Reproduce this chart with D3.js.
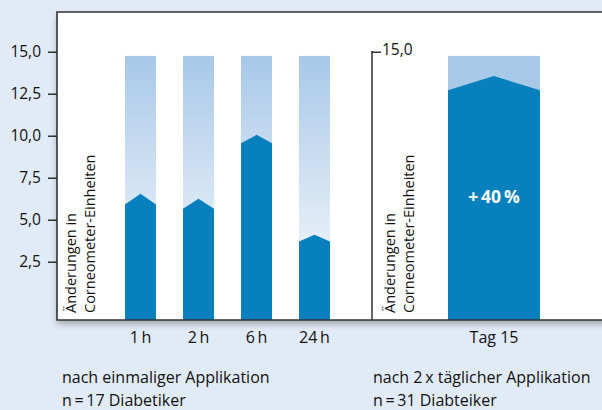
<!DOCTYPE html>
<html>
<head>
<meta charset="utf-8">
<script src="https://cdn.jsdelivr.net/npm/d3@7"></script>
<style>
  body { margin: 0; background: #e1ebf7; }
  svg { display: block; font-family: "Open Sans", sans-serif; }
</style>
</head>
<body>
<svg id="chart" width="602" height="410"></svg>
<script>
// single application (left panel)
const timeLabels = ["1\u2009h", "2\u2009h", "6\u2009h", "24\u2009h"]
const shoulderSingle = [5.9, 5.65, 9.55, 3.7]
const peakSingle = [6.55, 6.25, 10.05, 4.1]

// twice daily (right panel)
const dayLabels = ["Tag 15"]
const shoulderTwice = [12.7]
const peakTwice = [13.55]

const backgroundMax = 14.75
const yTicks = [2.5, 5, 7.5, 10, 12.5, 15]
const increaseLabel = "+\u200940\u2009%"

const axisTitle = ["Änderungen in", "Corneometer-Einheiten"]
const notesLeft = ["nach einmaliger Applikation", "n\u2009=\u200917 Diabetiker"]
const notesRight = ["nach 2\u2009x täglicher Applikation", "n\u2009=\u200931 Diabteiker"]

const darkBlue = "#0880bd"

const svg = d3.select("#chart")

const panel = {top: 12, bottom: 320, left: 57, right: 640},
    divider = 372

const de = d3.formatLocale({decimal: ",", thousands: ".", grouping: [3], currency: ["", "€"]})
const fmt = de.format(".1f")

const y = d3.scaleLinear()
    .domain([0, 15])
    .range([303.7, 51.7])

const x1 = d3.scaleBand()
    .domain(timeLabels)
    .range([125, 330])
    .paddingInner(27 / 58)
    .paddingOuter(0)

const x2 = d3.scaleBand()
    .domain(dayLabels)
    .range([448, 540])

const defs = svg.append("defs")

defs.append("filter")
    .attr("id", "shadow")
    .attr("x", "-5%").attr("y", "-5%")
    .attr("width", "110%").attr("height", "115%")
    .append("feDropShadow")
    .attr("dx", 0).attr("dy", 4)
    .attr("stdDeviation", 3)
    .attr("flood-color", "#000")
    .attr("flood-opacity", 0.3)

const grad = defs.append("linearGradient")
    .attr("id", "fade")
    .attr("gradientUnits", "userSpaceOnUse")
    .attr("x1", 0).attr("x2", 0)
    .attr("y1", y(backgroundMax)).attr("y2", panel.bottom)
grad.append("stop").attr("offset", 0).attr("stop-color", "#a8c8e8")
grad.append("stop").attr("offset", 1).attr("stop-color", "#ffffff")

// panel
svg.append("rect")
    .attr("x", panel.left)
    .attr("y", panel.top)
    .attr("width", panel.right - panel.left)
    .attr("height", panel.bottom - panel.top)
    .attr("fill", "#fff")
    .attr("filter", "url(#shadow)")

function drawBars(xs, shoulders, peaks, bgFill) {
    const g = svg.append("g")
    const keys = xs.domain()

    g.selectAll("rect.bg")
        .data(keys)
        .enter()
        .append("rect")
        .attr("class", "bg")
        .attr("x", d => xs(d))
        .attr("width", xs.bandwidth())
        .attr("y", y(backgroundMax))
        .attr("height", panel.bottom - y(backgroundMax))
        .attr("fill", bgFill)

    g.selectAll("path.bar")
        .data(keys)
        .enter()
        .append("path")
        .attr("class", "bar")
        .attr("fill", darkBlue)
        .attr("d", (d, i) => {
            const l = xs(d), r = l + xs.bandwidth(), m = (l + r) / 2
            return `M${l},${panel.bottom}V${y(shoulders[i])}L${m},${y(peaks[i])}L${r},${y(shoulders[i])}V${panel.bottom}Z`
        })

    g.selectAll("text.xlabel")
        .data(keys)
        .enter()
        .append("text")
        .attr("class", "xlabel")
        .attr("x", d => xs(d) + xs.bandwidth() / 2)
        .attr("y", 343)
        .attr("text-anchor", "middle")
        .attr("font-size", 16)
        .attr("fill", "#111")
        .text(d => d)
}

drawBars(x1, shoulderSingle, peakSingle, "url(#fade)")
drawBars(x2, shoulderTwice, peakTwice, "#a9c9e8")

// +40 % label
svg.append("text")
    .attr("x", x2(dayLabels[0]) + x2.bandwidth() / 2)
    .attr("y", 203)
    .attr("text-anchor", "middle")
    .attr("font-size", 17.5)
    .attr("font-weight", "bold")
    .attr("fill", "#fff")
    .text(increaseLabel)

// left axis
const leftAxis = svg.append("g")
    .attr("transform", `translate(${panel.left},0)`)
    .call(d3.axisLeft(y).tickValues(yTicks).tickFormat(fmt).tickSize(9).tickPadding(7))
leftAxis.select(".domain").remove()
leftAxis.selectAll("line").attr("stroke", "#111").attr("stroke-width", 1.3)
leftAxis.selectAll("text")
    .attr("font-size", 15.5)
    .attr("font-family", "Open Sans, sans-serif")
    .attr("fill", "#111")

// right axis (single tick)
const rightAxis = svg.append("g")
    .attr("transform", `translate(${divider},0)`)
    .call(d3.axisRight(y).tickValues([15]).tickFormat(fmt).tickSize(9).tickPadding(1))
rightAxis.select(".domain").remove()
rightAxis.selectAll("line").attr("stroke", "#111").attr("stroke-width", 1.3)
rightAxis.selectAll("text")
    .attr("font-size", 15.5)
    .attr("font-family", "Open Sans, sans-serif")
    .attr("fill", "#111")
    .attr("dy", "0.2em")

svg.append("line")
    .attr("x1", divider).attr("x2", divider)
    .attr("y1", y(15) - 0.6).attr("y2", panel.bottom)
    .attr("stroke", "#111")
    .attr("stroke-width", 1.3)

// panel border
svg.append("path")
    .attr("d", `M${panel.right},${panel.top}H${panel.left}V${panel.bottom}H${panel.right}`)
    .attr("fill", "none")
    .attr("stroke", "#333")
    .attr("stroke-width", 1.6)

// rotated axis titles
;[panel.left + 19, divider + 23].forEach(x0 => {
    const t = svg.append("text")
        .attr("transform", `translate(${x0},313) rotate(-90)`)
        .attr("font-size", 14.5)
        .attr("fill", "#111")
    axisTitle.forEach((line, i) => {
        t.append("tspan")
            .attr("x", 0)
            .attr("y", i * 19)
            .text(line)
    })
})

// notes below
;[[notesLeft, 62], [notesRight, 373]].forEach(([lines, x0]) => {
    lines.forEach((line, i) => {
        svg.append("text")
            .attr("x", x0)
            .attr("y", 383 + i * 23)
            .attr("font-size", 16)
            .attr("fill", "#111")
            .text(line)
    })
})
</script>
</body>
</html>
